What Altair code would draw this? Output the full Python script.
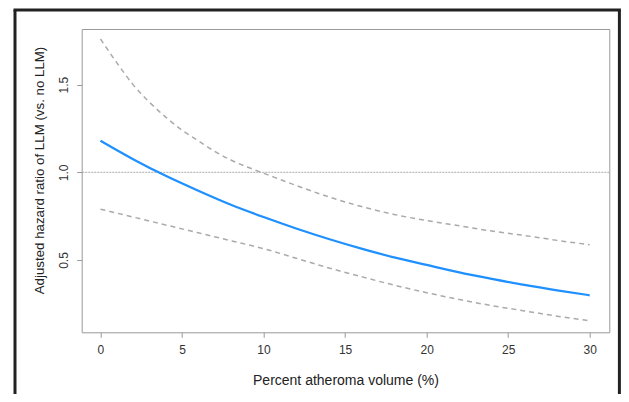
import altair as alt
import pandas as pd

# Fitted estimate (blue line)
est_x = [0, 2, 4, 6, 8, 10, 12, 14, 16, 18, 20, 22, 24, 26, 28, 30]
est_y = [1.18, 1.075, 0.98, 0.895, 0.815, 0.745, 0.68, 0.62, 0.565, 0.515,
         0.472, 0.43, 0.393, 0.358, 0.327, 0.299]

# Upper 95% CI (dashed)
up_x = [0, 1, 2, 3, 4, 5, 6, 7, 8, 9, 10, 12, 14, 16, 18, 20, 22, 24, 26, 28, 30]
up_y = [1.76, 1.625, 1.50, 1.40, 1.315, 1.24, 1.18, 1.12, 1.07, 1.03, 0.995,
        0.925, 0.86, 0.805, 0.76, 0.725, 0.695, 0.665, 0.64, 0.612, 0.587]

# Lower 95% CI (dashed)
lo_x = [0, 2, 4, 6, 8, 10, 12, 14, 16, 18, 20, 22, 24, 26, 28, 30]
lo_y = [0.79, 0.745, 0.70, 0.655, 0.61, 0.565, 0.51, 0.455, 0.405, 0.357,
        0.314, 0.275, 0.24, 0.21, 0.18, 0.154]

ref_y = [1.0]
x_ticks = [0, 5, 10, 15, 20, 25, 30]
y_ticks = [0.5, 1.0, 1.5]

FONT = "Liberation Sans"
W, H = 527.6, 303.3

est_df = pd.DataFrame({"x": est_x, "y": est_y})
ci_df = pd.concat([
    pd.DataFrame({"x": up_x, "y": up_y, "band": "upper"}),
    pd.DataFrame({"x": lo_x, "y": lo_y, "band": "lower"}),
])
ref_df = pd.DataFrame({"y": ref_y})

xscale = alt.Scale(domain=[-1.15, 31.2], nice=False, zero=False)
yscale = alt.Scale(domain=[0.088, 1.817], nice=False, zero=False)

xaxis = alt.Axis(values=x_ticks, title="Percent atheroma volume (%)", grid=False,
                 domain=False, tickColor="#999999", tickSize=5, labelFont=FONT,
                 labelFontSize=12, labelColor="#333333", labelPadding=7,
                 titleFont=FONT, titleFontSize=14, titleFontWeight="normal",
                 titleColor="#222222", titleBaseline="middle", titleY=48)
yaxis = alt.Axis(values=y_ticks, format=".1f",
                 title="Adjusted hazard ratio of LLM (vs. no LLM)", grid=False,
                 domain=False, tickColor="#999999", tickSize=5, labelFont=FONT,
                 labelFontSize=12, labelColor="#333333", labelAngle=-90,
                 labelPadding=6, titleFont=FONT, titleFontSize=13.3,
                 titleFontWeight="normal", titleColor="#222222",
                 titleBaseline="middle", titleX=-41.7, titleY=141)

ref = alt.Chart(ref_df).mark_rule(color="#aaaaaa", strokeWidth=1,
                                  strokeDash=[2, 1]).encode(
    y=alt.Y("y:Q", scale=yscale, axis=yaxis)
)

ci = alt.Chart(ci_df).mark_line(color="#aaaaaa", strokeWidth=1.5,
                                strokeDash=[5, 4], interpolate="monotone").encode(
    x=alt.X("x:Q", scale=xscale, axis=xaxis),
    y=alt.Y("y:Q", scale=yscale, axis=yaxis),
    detail="band:N",
)

est = alt.Chart(est_df).mark_line(color="#1E90FF", strokeWidth=2.2,
                                  interpolate="monotone").encode(
    x=alt.X("x:Q", scale=xscale, axis=xaxis),
    y=alt.Y("y:Q", scale=yscale, axis=yaxis),
)

# decorative outer frame (top, left, right edges), kept inside the svg
PAD_L, PAD_T, PAD_R, PAD_B = 73.7, 21.0, 11.7, 61.7
FL, FT = -66.7, -19.0
FR = W + PAD_R - 1.6
FB = H + PAD_B
one = alt.Data(values=[{}])
frame_top = alt.Chart(one).mark_rule(color="#222222", strokeWidth=3, clip=False).encode(
    x=alt.value(FL - 1.5), x2=alt.value(FR + 1.5), y=alt.value(FT))
frame_left = alt.Chart(one).mark_rule(color="#222222", strokeWidth=3, clip=False).encode(
    x=alt.value(FL), y=alt.value(FT), y2=alt.value(FB))
frame_right = alt.Chart(one).mark_rule(color="#222222", strokeWidth=3, clip=False).encode(
    x=alt.value(FR), y=alt.value(FT), y2=alt.value(FB))

chart = alt.layer(frame_top, frame_left, frame_right, ref, ci, est).properties(
    width=W, height=H,
    autosize=alt.AutoSizeParams(type="none"),
    padding={"left": PAD_L, "top": PAD_T, "right": PAD_R, "bottom": PAD_B},
    background="white",
).configure_view(stroke="#999999", strokeWidth=1)

chart.save("out.html", embed_options={"renderer": "svg", "actions": False})
